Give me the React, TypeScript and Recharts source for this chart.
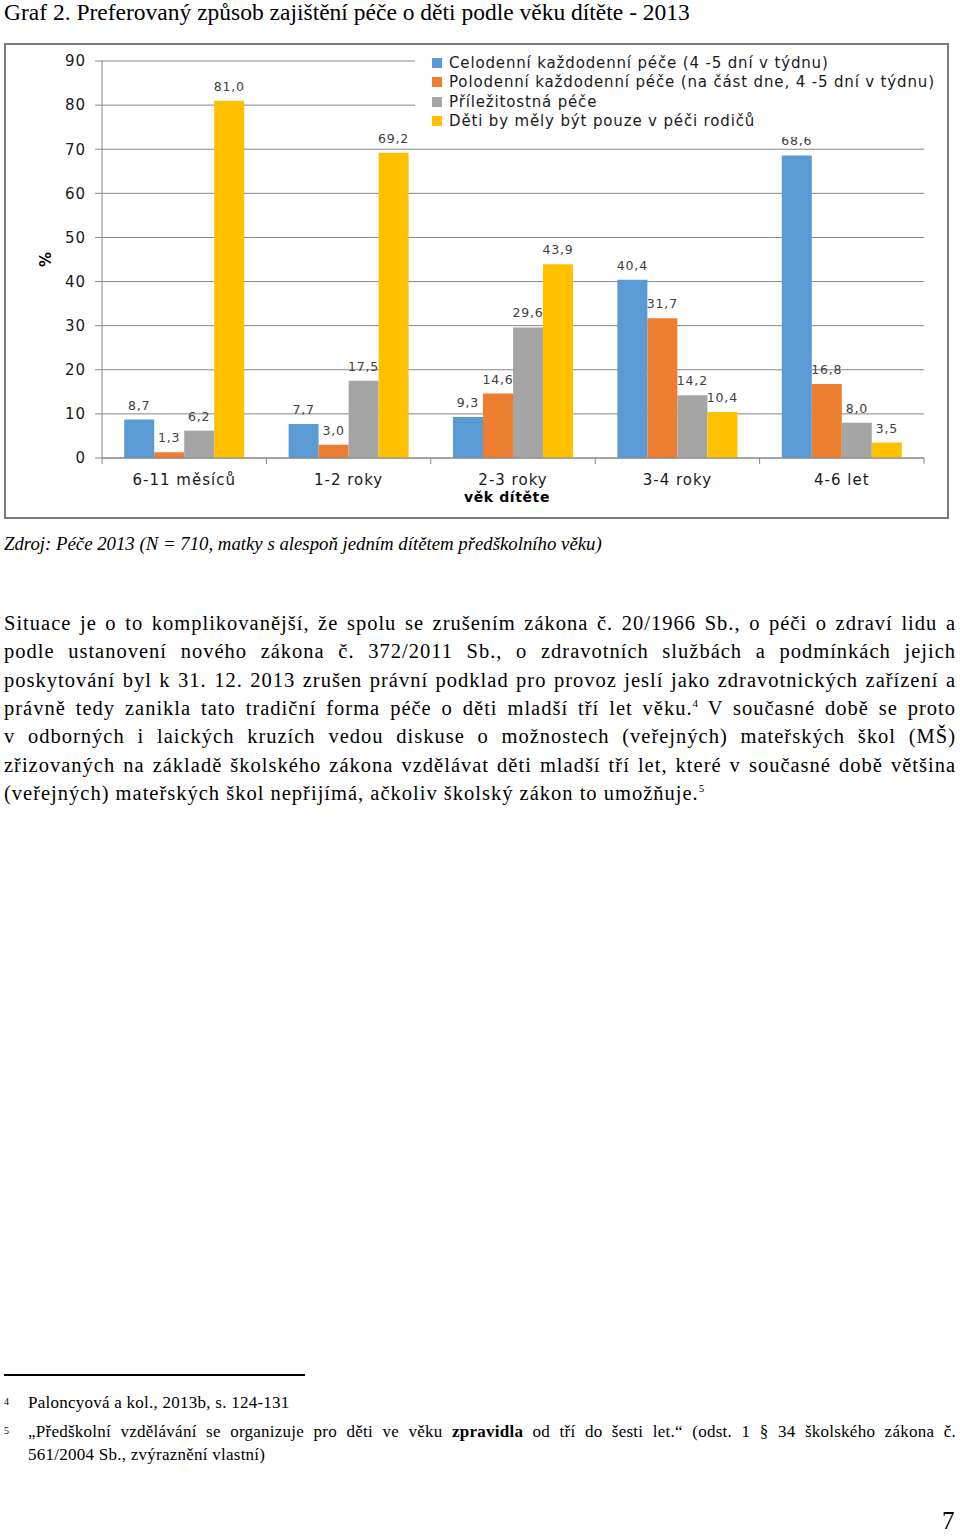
import React from 'react';
import { BarChart, Bar, XAxis, YAxis, CartesianGrid, Legend, LabelList, Label } from 'recharts';

const categories = ['6-11 měsíců', '1-2 roky', '2-3 roky', '3-4 roky', '4-6 let'];
const seriesNames = [
  'Celodenní každodenní péče (4 -5 dní v týdnu)',
  'Polodenní každodenní péče (na část dne, 4 -5 dní v týdnu)',
  'Příležitostná péče',
  'Děti by měly být pouze v péči rodičů',
];
const celodenni = [8.7, 7.7, 9.3, 40.4, 68.6];
const polodenni = [1.3, 3.0, 14.6, 31.7, 16.8];
const prilezitostna = [6.2, 17.5, 29.6, 14.2, 8.0];
const rodice = [81.0, 69.2, 43.9, 10.4, 3.5];
const yTicks = [0, 10, 20, 30, 40, 50, 60, 70, 80, 90];
const colors = ['#5B9BD5', '#ED7D31', '#A5A5A5', '#FFC000'];

const seriesValues = [celodenni, polodenni, prilezitostna, rodice];
const seriesKeys = ['celodenni', 'polodenni', 'prilezitostna', 'rodice'];

const data = categories.map((cat, i) => {
  const row: Record<string, string | number> = { cat };
  seriesKeys.forEach((k, s) => {
    row[k] = seriesValues[s][i];
  });
  return row;
});

const W = 945;
const H = 476;
const M = { top: 18, right: 25, bottom: 31, left: 38 };
const YW = 60;
const XH = 30;
const BAND = (W - M.left - YW - M.right) / categories.length;
const PLOT_BOTTOM = H - M.bottom - XH;
const AXIS_COLOR = '#868686';
const SANS = '"DejaVu Sans", Verdana, sans-serif';

const fmt = (v: any) => Number(v).toFixed(1).replace('.', ',');

function XTick(props: any) {
  const { x, index, payload } = props;
  return (
    <g>
      <line x1={x - BAND / 2} x2={x - BAND / 2} y1={PLOT_BOTTOM} y2={PLOT_BOTTOM + 6} stroke={AXIS_COLOR} />
      {index === categories.length - 1 && (
        <line x1={x + BAND / 2} x2={x + BAND / 2} y1={PLOT_BOTTOM} y2={PLOT_BOTTOM + 6} stroke={AXIS_COLOR} />
      )}
      <text x={x} y={PLOT_BOTTOM + 27} textAnchor="middle" fill="#1a1a1a" fontSize={15} letterSpacing={1} fontFamily={SANS}>
        {payload.value}
      </text>
    </g>
  );
}

function renderLegend(props: any) {
  const payload = [...(props.payload || [])].sort(
    (a: any, b: any) => seriesNames.indexOf(a.value) - seriesNames.indexOf(b.value)
  );
  return (
    <div style={{ boxSizing: 'border-box', width: 529, background: '#fff', padding: '2px 4px 6px 17px', fontFamily: SANS, fontSize: 15, letterSpacing: 0.85, color: '#1a1a1a' }}>
      {payload.map((e: any, i: number) => (
        <div key={i} style={{ display: 'flex', alignItems: 'center', height: 19.5, whiteSpace: 'nowrap' }}>
          <span style={{ display: 'inline-block', width: 10, height: 10, background: e.color, marginRight: 7 }} />
          <span>{e.value}</span>
        </div>
      ))}
    </div>
  );
}

const PARA_FONT = 20.5;
const PARA_LS = 1.0;
const lineStyle: React.CSSProperties = {
  position: 'absolute',
  left: 4,
  width: 952,
  fontSize: PARA_FONT,
  letterSpacing: PARA_LS,
  lineHeight: '28px',
  textAlign: 'justify',
  textAlignLast: 'justify',
  whiteSpace: 'nowrap',
};
const supStyle: React.CSSProperties = { fontSize: 11, position: 'relative', top: -8, lineHeight: 0, letterSpacing: 0 };

const paraLines: React.ReactNode[] = [
  'Situace je o to komplikovanější, že spolu se zrušením zákona č. 20/1966 Sb., o péči o zdraví lidu a',
  'podle ustanovení nového zákona č. 372/2011 Sb., o zdravotních službách a podmínkách jejich',
  'poskytování byl k 31. 12. 2013 zrušen právní podklad pro provoz jeslí jako zdravotnických zařízení a',
  <>právně tedy zanikla tato tradiční forma péče o děti mladší tří let věku.<span style={supStyle}>4</span> V současné době se proto</>,
  'v odborných i laických kruzích vedou diskuse o možnostech (veřejných) mateřských škol (MŠ)',
  'zřizovaných na základě školského zákona vzdělávat děti mladší tří let, které v současné době většina',
];

const FN_FONT = 17;

export default function App() {
  return (
    <div style={{ position: 'absolute', left: 0, top: 0, width: 960, height: 1537, overflow: 'hidden', fontFamily: '"Liberation Serif", serif', color: '#000', background: '#fff' }}>
      <div style={{ position: 'absolute', left: 4, top: 0, fontSize: 23.5, lineHeight: '25px', whiteSpace: 'nowrap' }}>
        Graf 2. Preferovaný způsob zajištění péče o děti podle věku dítěte - 2013
      </div>

      <div style={{ position: 'absolute', left: 4, top: 43, width: W, height: H, boxSizing: 'border-box', border: '2px solid #7a7a7a' }} />
      <div style={{ position: 'absolute', left: 4, top: 43, width: W, height: H }}>
        <BarChart width={W} height={H} data={data} margin={M} barCategoryGap="13.5%" barGap={0}>
          <CartesianGrid vertical={false} stroke={AXIS_COLOR} />
          <XAxis
            dataKey="cat"
            height={XH}
            stroke={AXIS_COLOR}
            tickLine={false}
            tick={<XTick />}
            interval={0}
          >
            <Label
              content={(p: any) => {
                const vb = p.viewBox;
                return (
                  <text x={vb.x + vb.width / 2 - 6} y={PLOT_BOTTOM + 44} textAnchor="middle" fontWeight="bold" fontSize={14} letterSpacing={0.6} fill="#000" fontFamily={SANS}>
                    věk dítěte
                  </text>
                );
              }}
            />
          </XAxis>
          <YAxis
            width={YW}
            domain={[0, 90]}
            ticks={yTicks}
            stroke={AXIS_COLOR}
            tickSize={7}
            tickMargin={9}
            tick={{ fill: '#1a1a1a', fontSize: 15, letterSpacing: 1, fontFamily: SANS }}
          >
            <Label
              content={(p: any) => {
                const vb = p.viewBox;
                const cx = vb.x + 4;
                const cy = vb.y + vb.height / 2;
                return (
                  <text x={cx} y={cy} transform={`rotate(-90 ${cx} ${cy})`} textAnchor="middle" dominantBaseline="central" fontWeight="bold" fontSize={15} fill="#000" fontFamily={SANS}>
                    %
                  </text>
                );
              }}
            />
          </YAxis>
          <Legend
            layout="vertical"
            align="center"
            verticalAlign="middle"
            content={renderLegend}
            wrapperStyle={{ top: 8, left: 411, width: 529 }}
          />
          {seriesKeys.map((k, s) => (
            <Bar key={k} dataKey={k} name={seriesNames[s]} fill={colors[s]} isAnimationActive={false}>
              <LabelList dataKey={k} position="top" offset={10} formatter={fmt} fill="#404040" fontSize={12.5} letterSpacing={0.8} fontFamily={SANS} />
            </Bar>
          ))}
        </BarChart>
      </div>

      <div style={{ position: 'absolute', left: 4, top: 533, fontSize: 18.8, lineHeight: '22px', fontStyle: 'italic', whiteSpace: 'nowrap' }}>
        Zdroj: Péče 2013 (N = 710, matky s alespoň jedním dítětem předškolního věku)
      </div>

      {paraLines.map((ln, i) => (
        <div key={i} style={{ ...lineStyle, top: 609 + i * 28.33 }}>{ln}</div>
      ))}
      <div style={{ ...lineStyle, top: 609 + 6 * 28.33, textAlign: 'left', textAlignLast: 'left' }}>
        (veřejných) mateřských škol nepřijímá, ačkoliv školský zákon to umožňuje.<span style={supStyle}>5</span>
      </div>

      <div style={{ position: 'absolute', left: 4, top: 1374, width: 301, height: 1.5, background: '#000' }} />

      <div style={{ position: 'absolute', left: 4, top: 1396, fontSize: 10, lineHeight: '12px' }}>4</div>
      <div style={{ position: 'absolute', left: 28, top: 1393, fontSize: FN_FONT, letterSpacing: 0.25, lineHeight: '20px', whiteSpace: 'nowrap' }}>
        Paloncyová a kol., 2013b, s. 124-131
      </div>

      <div style={{ position: 'absolute', left: 4, top: 1425, fontSize: 10, lineHeight: '12px' }}>5</div>
      <div style={{ position: 'absolute', left: 28, top: 1422, width: 928, fontSize: FN_FONT, letterSpacing: 0.25, lineHeight: '20px', whiteSpace: 'nowrap', textAlign: 'justify', textAlignLast: 'justify' }}>
        „Předškolní vzdělávání se organizuje pro děti ve věku <b>zpravidla</b> od tří do šesti let.“ (odst. 1 § 34 školského zákona č.
      </div>
      <div style={{ position: 'absolute', left: 28, top: 1445, fontSize: FN_FONT, letterSpacing: 0.25, lineHeight: '20px', whiteSpace: 'nowrap' }}>
        561/2004 Sb., zvýraznění vlastní)
      </div>

      <div style={{ position: 'absolute', left: 942, top: 1510, fontSize: 25, lineHeight: '22px' }}>7</div>
    </div>
  );
}
